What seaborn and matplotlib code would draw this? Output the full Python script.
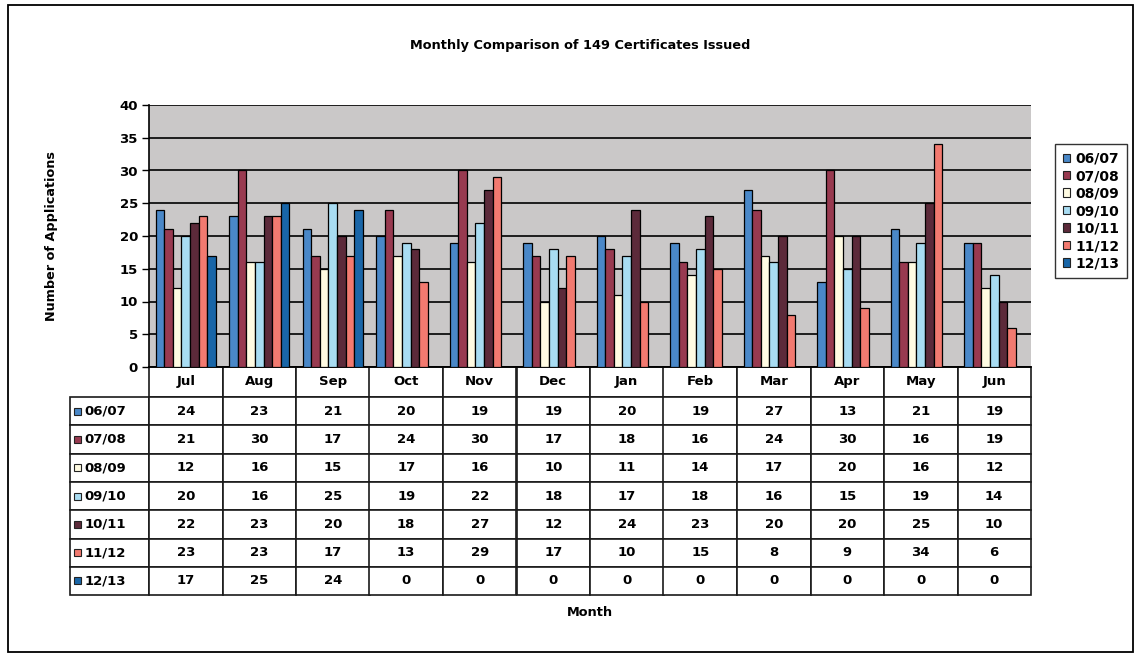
import numpy as np
import pandas as pd
import matplotlib
matplotlib.use("Agg")
import matplotlib.pyplot as plt
import seaborn as sns
from matplotlib.table import Table
from matplotlib.patches import Rectangle, Patch

months = ["Jul", "Aug", "Sep", "Oct", "Nov", "Dec", "Jan", "Feb", "Mar", "Apr", "May", "Jun"]
years = ["06/07", "07/08", "08/09", "09/10", "10/11", "11/12", "12/13"]
v0607 = [24, 23, 21, 20, 19, 19, 20, 19, 27, 13, 21, 19]
v0708 = [21, 30, 17, 24, 30, 17, 18, 16, 24, 30, 16, 19]
v0809 = [12, 16, 15, 17, 16, 10, 11, 14, 17, 20, 16, 12]
v0910 = [20, 16, 25, 19, 22, 18, 17, 18, 16, 15, 19, 14]
v1011 = [22, 23, 20, 18, 27, 12, 24, 23, 20, 20, 25, 10]
v1112 = [23, 23, 17, 13, 29, 17, 10, 15, 8, 9, 34, 6]
v1213 = [17, 25, 24, 0, 0, 0, 0, 0, 0, 0, 0, 0]
series = [v0607, v0708, v0809, v0910, v1011, v1112, v1213]
yticks = [0, 5, 10, 15, 20, 25, 30, 35, 40]

colors = ["#4a88c8", "#983a50", "#fffbe2", "#a8dcf2", "#5c2a3a", "#f27a70", "#1966a8"]

rows = []
for y, vals in zip(years, series):
    for m, v in zip(months, vals):
        rows.append({"Month": m, "Year": y, "Value": v})
df = pd.DataFrame(rows)

sns.set_theme(style="white")
plt.rcParams["font.family"] = ["DejaVu Sans"]
plt.rcParams["text.color"] = "black"
plt.rcParams["axes.labelcolor"] = "black"
plt.rcParams["xtick.color"] = "black"
plt.rcParams["ytick.color"] = "black"

W, H = 1141, 656
fig = plt.figure(figsize=(W / 100, H / 100), dpi=100)
fig.patch.set_facecolor("white")

# axes geometry (pixels)
ax_l, ax_r, ax_t, ax_b = 149, 1031, 105, 367
ax = fig.add_axes([ax_l / W, 1 - ax_b / H, (ax_r - ax_l) / W, (ax_b - ax_t) / H])
ax.set_facecolor("#cac8c8")

sns.barplot(data=df, x="Month", y="Value", hue="Year", order=months, hue_order=years,
            palette=colors, edgecolor="black", linewidth=0.9, saturation=1,
            width=0.82, ax=ax, legend=False, zorder=3)

ax.set_ylim(0, 40)
ax.set_yticks(yticks)
ax.set_yticklabels([str(t) for t in yticks], fontsize=9.5, fontweight="bold", color="black")
ax.set_xticks([])
ax.set_xlabel("")
ax.set_ylabel("")
ax.yaxis.grid(True, color="black", linewidth=1.2, zorder=0)
ax.set_axisbelow(True)
ax.tick_params(axis="y", direction="out", length=5, width=1, color="black", left=True, pad=3)
for s in ["top", "right"]:
    ax.spines[s].set_visible(False)
ax.spines["left"].set_color("black")
ax.spines["left"].set_linewidth(1.2)
ax.spines["bottom"].set_color("black")
ax.spines["bottom"].set_linewidth(1.2)

# data table below axes
axh = ax_b - ax_t
axw = ax_r - ax_l
lab_w = (149 - 70) / axw
head_h = 30 / axh
row_h = 28.3 / axh
ncol = len(months)
tbl_h = head_h + row_h * len(years)
tbl = Table(ax, bbox=[0, -tbl_h, 1, tbl_h])
for j, m in enumerate(months):
    c = tbl.add_cell(0, j, width=1 / ncol, height=head_h, text=m, loc="center", facecolor="white")
    c.get_text().set_fontweight("bold")
    c.get_text().set_color("black")
    c.set_linewidth(1.2)
for i, (y, vals) in enumerate(zip(years, series)):
    c = tbl.add_cell(i + 1, -1, width=lab_w, height=row_h, text=y, loc="left", facecolor="white")
    c.PAD = 0.18
    c.get_text().set_fontweight("bold")
    c.get_text().set_color("black")
    c.set_linewidth(1.2)
    for j, v in enumerate(vals):
        c = tbl.add_cell(i + 1, j, width=1 / ncol, height=row_h, text=str(v), loc="center", facecolor="white")
        c.get_text().set_fontweight("bold")
        c.get_text().set_color("black")
        c.set_linewidth(1.2)
tbl.auto_set_font_size(False)
tbl.set_fontsize(9.5)
ax.add_table(tbl)

# legend squares in the table row labels
for i, col in enumerate(colors):
    yc = -head_h - row_h * (i + 0.5)
    ax.add_patch(Rectangle((-lab_w + 4 / axw, yc - 3.5 / axh), 7 / axw, 7 / axh,
                           transform=ax.transAxes, facecolor=col, edgecolor="#222222",
                           linewidth=0.8, clip_on=False, zorder=10))

# axis labels
fig.text(52 / W, 1 - 236 / H, "Number of Applications", rotation=90, ha="center", va="center",
         fontsize=9.2, fontweight="bold", color="black")
fig.text((ax_l + ax_r) / 2 / W, 1 - 612 / H, "Month", ha="center", va="center",
         fontsize=9.3, fontweight="bold", color="black")

# title
fig.text(580 / W, 1 - 45 / H, "Monthly Comparison of 149 Certificates Issued",
         ha="center", va="center", fontsize=9.3, fontweight="bold", color="black")

# legend
handles = [Patch(facecolor=c, edgecolor="#222222", linewidth=0.8, label=y) for c, y in zip(colors, years)]
leg = fig.legend(handles=handles, loc="upper left", bbox_to_anchor=(1055 / W, 1 - 144 / H),
                 frameon=True, fancybox=False, edgecolor="black", fontsize=10,
                 handlelength=0.55, handleheight=0.55, handletextpad=0.35,
                 labelspacing=0.25, borderpad=0.55, borderaxespad=0)
leg.get_frame().set_linewidth(1.0)
for t in leg.get_texts():
    t.set_fontweight("bold")
    t.set_color("black")

# outer border
fig.add_artist(Rectangle((8 / W, 1 - 652 / H), (1133 - 8) / W, (652 - 5) / H,
                         transform=fig.transFigure, fill=False, edgecolor="black",
                         linewidth=1.3))

fig.savefig("out.png", dpi=100, facecolor="white")
